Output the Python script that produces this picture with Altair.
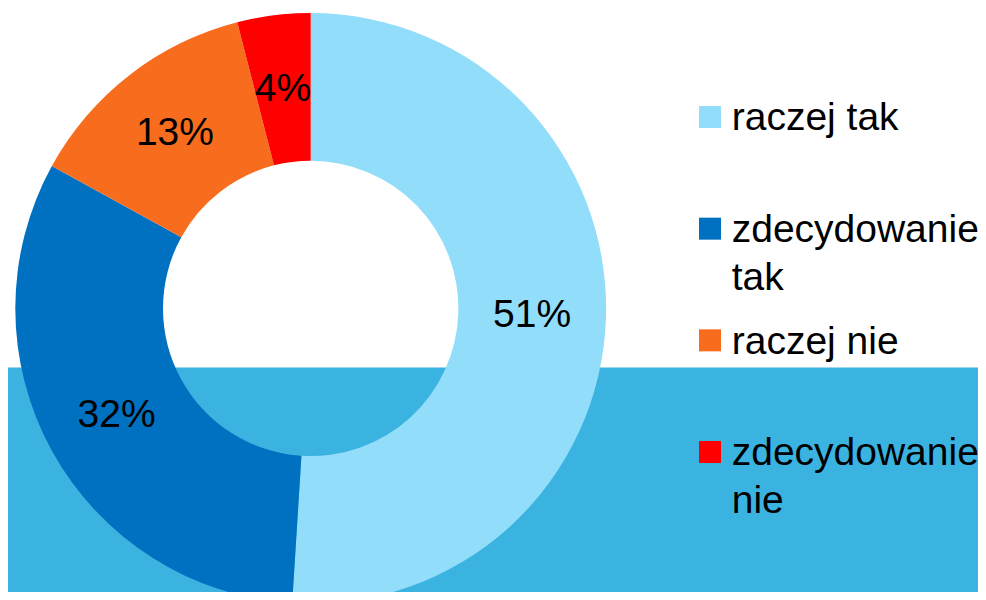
import altair as alt
import pandas as pd

categories = ["raczej tak", "zdecydowanie tak", "raczej nie", "zdecydowanie nie"]
values = [51, 32, 13, 4]
value_labels = ["51%", "32%", "13%", "4%"]
legend_labels = ["raczej tak", "zdecydowanie|tak", "raczej nie", "zdecydowanie|nie"]
colors = ["#92DDF9", "#0070C0", "#F86C1E", "#FF0000"]

df = pd.DataFrame({
    "cat": categories,
    "value": values,
    "label": value_labels,
    "legend": legend_labels,
    "idx": list(range(len(categories))),
})

W, H = 970, 584
CX, CY = 302.7, 300.4
R_OUT, R_IN = 295.4, 147.7
FONT = "Liberation Sans"

color_scale = alt.Scale(domain=categories, range=colors)

band = alt.Chart(df).mark_rect(color="#3BB3E0").encode(
    x=alt.value(0), x2=alt.value(W), y=alt.value(359.5), y2=alt.value(H)
).transform_filter("datum.idx == 0")

base = alt.Chart(df).encode(
    theta=alt.Theta("value:Q", stack=True),
    order=alt.Order("idx:Q"),
    x=alt.value(CX),
    y=alt.value(CY),
)

arcs = base.mark_arc(outerRadius=R_OUT, innerRadius=R_IN, strokeWidth=0).encode(
    color=alt.Color("cat:N", scale=color_scale, legend=None)
)

pct = base.mark_text(radius=221.5, fontSize=39, font=FONT, color="black",
                     align="center", baseline="middle").encode(text="label:N")

leg_y = alt.Y("cat:N", scale=alt.Scale(domain=categories, range=[109, 444], padding=0), axis=None)

leg_sq = alt.Chart(df).mark_square(size=484, opacity=1, strokeWidth=0).encode(
    x=alt.value(702),
    y=leg_y,
    color=alt.Color("cat:N", scale=color_scale, legend=None),
)

leg_tx = alt.Chart(df).transform_calculate(
    lines="split(datum.legend, '|')"
).mark_text(align="left", baseline="alphabetic", dy=13.3, fontSize=39, font=FONT,
            color="black", lineHeight=47.6).encode(
    x=alt.value(723.7),
    y=leg_y,
    text="lines:N",
)

chart = alt.layer(band, arcs, pct, leg_sq, leg_tx).properties(
    width=W, height=H, padding=0,
    autosize=alt.AutoSizeParams(type="none"),
    background="white",
).configure_view(stroke=None)

chart.save("out.html", embed_options={"renderer": "svg", "actions": False})
